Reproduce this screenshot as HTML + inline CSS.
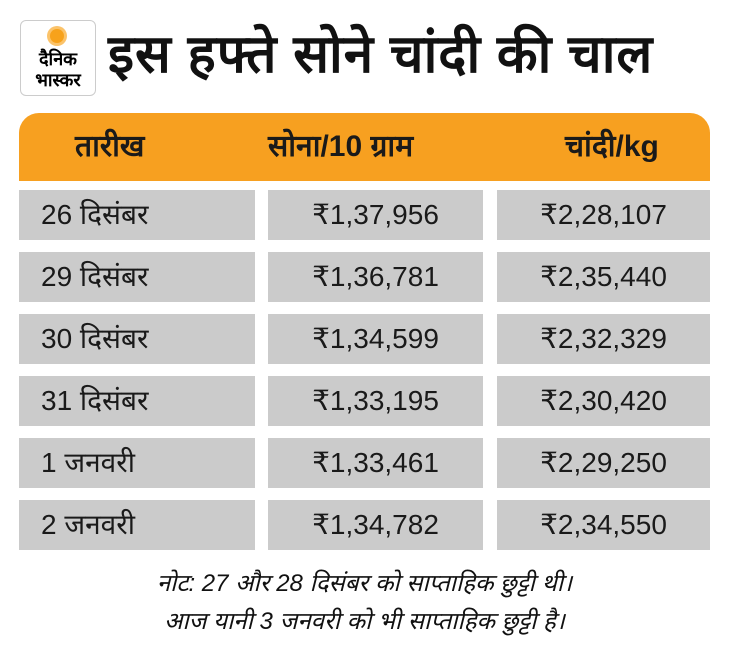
<!DOCTYPE html>
<html><head><meta charset="utf-8"><style>
body{margin:0;width:729px;height:664px;background:#fff;font-family:"Liberation Sans",sans-serif;position:relative;overflow:hidden}
.a{position:absolute}
.logo{left:20px;top:20px;width:76px;height:76px;border:1px solid #ccc;border-radius:6px;box-sizing:border-box}
.sun{left:50px;top:29px;width:14px;height:14px;border-radius:50%;background:#f7a21b;box-shadow:0 0 0 3px #fbc36a}
.title{left:108px;top:22px;font-size:53px;font-weight:bold;color:#111;line-height:66px;white-space:nowrap;letter-spacing:1px}
.hdr{left:19px;top:113px;width:691px;height:68px;background:#f7a020;border-radius:20px 20px 0 0}
.h{top:113px;height:68px;line-height:68px;font-size:30px;font-weight:bold;color:#1a1a1a}
.c{background:#cbcbcb;height:50px;line-height:50px;font-size:28px;color:#1a1a1a}
.n{font-size:24px;font-style:italic;color:#111;left:0;width:729px;text-align:center}
</style></head><body>
<div class="a logo"></div><div class="a sun"></div>
<div class="a" style="left:22px;top:49px;width:72px;text-align:center;font-size:18px;font-weight:bold;line-height:21px">दैनिक<br>भास्कर</div>
<div class="a title">इस हफ्ते सोने चांदी की चाल</div>
<div class="a hdr"></div>
<div class="a h" style="left:75px">तारीख</div>
<div class="a h" style="left:268px">सोना/10 ग्राम</div>
<div class="a h" style="left:565px">चांदी/kg</div>
<div class="a c" style="left:19px;top:190px;width:236px;padding-left:22px;box-sizing:border-box">26 दिसंबर</div><div class="a c" style="left:268px;top:190px;width:215px;text-align:center">₹1,37,956</div><div class="a c" style="left:497px;top:190px;width:213px;text-align:center">₹2,28,107</div>
<div class="a c" style="left:19px;top:252px;width:236px;padding-left:22px;box-sizing:border-box">29 दिसंबर</div><div class="a c" style="left:268px;top:252px;width:215px;text-align:center">₹1,36,781</div><div class="a c" style="left:497px;top:252px;width:213px;text-align:center">₹2,35,440</div>
<div class="a c" style="left:19px;top:314px;width:236px;padding-left:22px;box-sizing:border-box">30 दिसंबर</div><div class="a c" style="left:268px;top:314px;width:215px;text-align:center">₹1,34,599</div><div class="a c" style="left:497px;top:314px;width:213px;text-align:center">₹2,32,329</div>
<div class="a c" style="left:19px;top:376px;width:236px;padding-left:22px;box-sizing:border-box">31 दिसंबर</div><div class="a c" style="left:268px;top:376px;width:215px;text-align:center">₹1,33,195</div><div class="a c" style="left:497px;top:376px;width:213px;text-align:center">₹2,30,420</div>
<div class="a c" style="left:19px;top:438px;width:236px;padding-left:22px;box-sizing:border-box">1 जनवरी</div><div class="a c" style="left:268px;top:438px;width:215px;text-align:center">₹1,33,461</div><div class="a c" style="left:497px;top:438px;width:213px;text-align:center">₹2,29,250</div>
<div class="a c" style="left:19px;top:500px;width:236px;padding-left:22px;box-sizing:border-box">2 जनवरी</div><div class="a c" style="left:268px;top:500px;width:215px;text-align:center">₹1,34,782</div><div class="a c" style="left:497px;top:500px;width:213px;text-align:center">₹2,34,550</div>
<div class="a n" style="top:566px">नोट: 27 और 28 दिसंबर को साप्ताहिक छुट्टी थी।</div>
<div class="a n" style="top:604px">आज यानी 3 जनवरी को भी साप्ताहिक छुट्टी है।</div>
</body></html>
